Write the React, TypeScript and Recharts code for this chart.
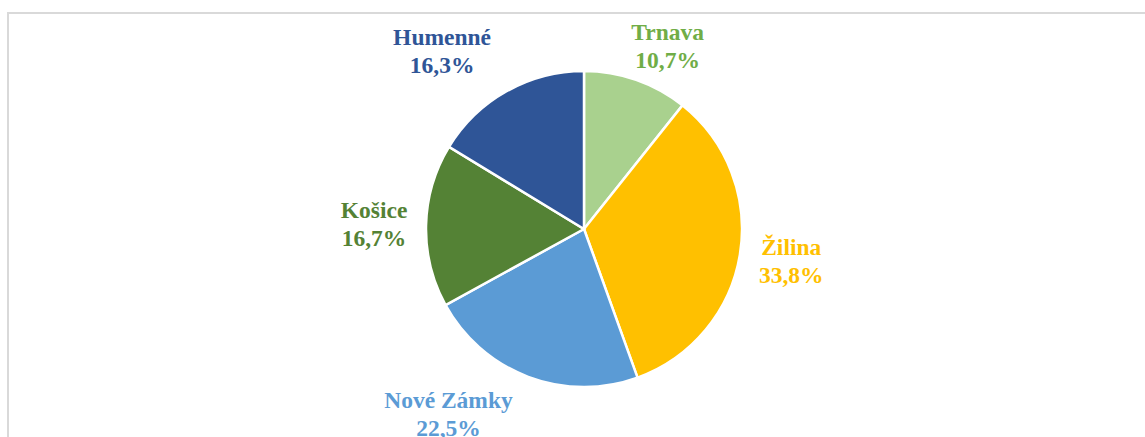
import { PieChart, Pie, Cell } from 'recharts'

const regions = ['Trnava', 'Žilina', 'Nové Zámky', 'Košice', 'Humenné']
const shares = [10.7, 33.8, 22.5, 16.7, 16.3]

const SLICE_COLORS = ['#A9D18E', '#FFC000', '#5B9BD5', '#548235', '#2F5597']
const LABEL_COLORS = ['#70AD47', '#FFC000', '#5B9BD5', '#548235', '#2F5597']
// small manual nudges so labels sit where Excel's best-fit put them
const LABEL_NUDGE = [
  [15, 15],
  [2, 0],
  [-62, -8],
  [-2, 2],
  [-40, 5],
]

const data = regions.map((name, i) => ({ name, value: shares[i] }))

const RAD = Math.PI / 180

const renderLabel = (props: any) => {
  const { cx, cy, midAngle, outerRadius, index, value } = props
  const r = outerRadius + 50
  const x = cx + r * Math.cos(-midAngle * RAD) + LABEL_NUDGE[index][0]
  const y = cy + r * Math.sin(-midAngle * RAD) + LABEL_NUDGE[index][1]
  return (
    <text
      x={x}
      y={y}
      textAnchor="middle"
      fill={LABEL_COLORS[index]}
      style={{ fontFamily: '"Liberation Serif", "Times New Roman", serif', fontWeight: 700, fontSize: 23.5 }}
    >
      <tspan x={x} y={y - 8}>{regions[index]}</tspan>
      <tspan x={x} y={y + 20}>{value.toFixed(1).replace('.', ',')}%</tspan>
    </text>
  )
}

export default function App() {
  return (
    <div style={{ position: 'absolute', left: 0, top: 0, width: 1145, height: 437, background: '#fff', overflow: 'hidden' }}>
      <div
        style={{
          position: 'absolute',
          left: 7,
          top: 12,
          width: 1150,
          height: 440,
          borderTop: '2px solid #d9d9d9',
          borderLeft: '2px solid #d9d9d9',
        }}
      />
      <div style={{ position: 'absolute', left: 0, top: 0 }}>
        <PieChart width={1145} height={437} margin={{ top: 0, right: 0, bottom: 0, left: 0 }}>
          <Pie
            data={data}
            dataKey="value"
            nameKey="name"
            cx={584}
            cy={229}
            outerRadius={158}
            startAngle={90}
            endAngle={-270}
            stroke="#fff"
            strokeWidth={2.5}
            label={renderLabel}
            labelLine={false}
            isAnimationActive={false}
          >
            {data.map((_, i) => (
              <Cell key={i} fill={SLICE_COLORS[i]} />
            ))}
          </Pie>
        </PieChart>
      </div>
    </div>
  )
}
